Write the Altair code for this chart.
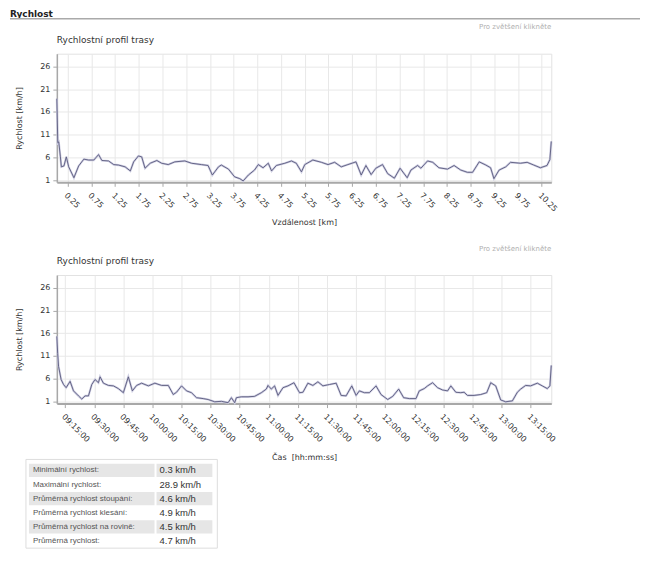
import altair as alt
import pandas as pd

# ---------------- data ----------------
dist_km = [0.02, 0.04, 0.06, 0.095, 0.115, 0.17, 0.22, 0.27, 0.38, 0.48,
           0.59, 0.69, 0.80, 0.90, 0.97, 1.11, 1.22, 1.32, 1.46, 1.57,
           1.64, 1.74, 1.81, 1.88, 1.99, 2.13, 2.23, 2.37, 2.51, 2.72,
           2.86, 3.07, 3.21, 3.30, 3.43, 3.49, 3.64, 3.77, 3.88, 3.95,
           4.06, 4.19, 4.27, 4.37, 4.48, 4.55, 4.65, 4.83, 4.97, 5.07,
           5.18, 5.25, 5.42, 5.60, 5.74, 5.88, 6.02, 6.16, 6.33, 6.44,
           6.54, 6.65, 6.75, 6.89, 7.00, 7.14, 7.26, 7.41, 7.49, 7.63,
           7.70, 7.84, 7.95, 8.08, 8.26, 8.40, 8.54, 8.68, 8.79, 8.93,
           9.07, 9.17, 9.24, 9.35, 9.49, 9.59, 9.80, 9.94, 10.08, 10.22,
           10.36, 10.42, 10.45]
speed_by_dist = [18.9, 9.2, 9.4, 6.1, 3.9, 4.1, 6.1, 3.9, 1.5, 4.1,
                 5.6, 5.4, 5.4, 6.6, 5.3, 5.2, 4.4, 4.3, 3.9, 3.0,
                 5.0, 6.3, 6.1, 3.6, 4.7, 5.3, 4.7, 4.4, 5.0, 5.2,
                 4.7, 4.4, 4.2, 2.1, 3.9, 4.3, 3.4, 1.7, 1.3, 0.8,
                 2.1, 3.2, 4.4, 3.7, 4.7, 3.0, 4.2, 4.7, 5.2, 4.7,
                 2.8, 4.4, 5.4, 4.9, 4.4, 4.9, 3.9, 4.4, 5.0, 2.1,
                 4.2, 2.2, 3.6, 4.4, 2.4, 1.4, 3.6, 1.5, 3.2, 4.2,
                 3.6, 5.2, 4.9, 3.7, 3.4, 4.2, 3.2, 2.7, 2.7, 5.0,
                 4.3, 3.7, 1.3, 3.2, 3.9, 4.9, 4.7, 4.9, 4.3, 3.7,
                 4.2, 5.5, 9.5]

time_hms = ["09:10:44", "09:11:10", "09:11:37", "09:12:56", "09:14:11", "09:15:31",
            "09:17:34", "09:19:19", "09:21:53", "09:23:35", "09:25:17", "09:27:02",
            "09:28:44", "09:30:25", "09:32:10", "09:33:00", "09:34:44", "09:37:19",
            "09:39:53", "09:42:27", "09:45:01", "09:47:35", "09:49:39", "09:51:52",
            "09:54:26", "09:57:53", "10:01:16", "10:04:43", "10:08:10", "10:10:44",
            "10:12:26", "10:15:00", "10:17:34", "10:20:08", "10:22:43", "10:26:09",
            "10:28:43", "10:32:07", "10:35:34", "10:39:00", "10:40:42", "10:42:24",
            "10:43:16", "10:45:50", "10:49:17", "10:52:41", "10:56:08", "10:58:42",
            "10:59:34", "11:01:16", "11:02:58", "11:04:43", "11:07:17", "11:09:51",
            "11:12:56", "11:15:49", "11:17:34", "11:20:08", "11:22:42", "11:25:17",
            "11:27:51", "11:31:14", "11:34:41", "11:37:15", "11:39:49", "11:42:45",
            "11:44:58", "11:46:40", "11:49:14", "11:51:48", "11:55:14", "11:57:49",
            "12:01:16", "12:03:50", "12:06:55", "12:09:29", "12:12:22", "12:15:49",
            "12:17:31", "12:20:05", "12:21:49", "12:24:23", "12:26:58", "12:29:32",
            "12:32:07", "12:33:48", "12:36:22", "12:38:56", "12:40:38", "12:42:23",
            "12:45:47", "12:49:13", "12:52:18", "12:54:22", "12:56:56", "12:59:30",
            "13:02:04", "13:05:31", "13:08:05", "13:09:47", "13:12:22", "13:14:56",
            "13:18:22", "13:20:56", "13:23:31", "13:24:51", "13:25:34"]
speed_by_time = [15.3, 11.5, 8.7, 5.8, 4.7, 4.0,
                 5.4, 3.3, 2.2, 1.5, 2.2, 2.2,
                 4.7, 5.8, 5.1, 6.4, 5.0, 4.5,
                 4.4, 3.8, 2.9, 6.4, 3.3, 4.5,
                 5.0, 4.4, 5.0, 4.5, 4.5, 2.5,
                 3.0, 4.4, 3.3, 2.9, 1.8, 1.6,
                 1.4, 0.9, 1.0, 0.7, 1.8, 0.7,
                 1.8, 2.0, 2.0, 2.1, 2.9, 3.7,
                 4.5, 3.7, 4.4, 2.3, 4.0, 4.4,
                 5.1, 2.9, 3.0, 5.0, 4.5, 5.3,
                 4.4, 4.7, 5.0, 2.3, 2.2, 4.4,
                 2.3, 3.3, 2.9, 2.9, 4.4, 2.5,
                 1.4, 2.1, 3.7, 1.8, 1.6, 1.6,
                 3.3, 3.8, 4.4, 5.1, 4.0, 3.5,
                 3.3, 4.4, 3.0, 2.9, 3.0, 2.3,
                 2.3, 2.5, 2.9, 5.1, 4.4, 1.3,
                 0.9, 1.1, 3.0, 3.7, 4.5, 4.4,
                 5.0, 4.4, 3.8, 4.4, 8.9]

dist_ticks = [0.25, 0.75, 1.25, 1.75, 2.25, 2.75, 3.25, 3.75, 4.25, 4.75, 5.25,
              5.75, 6.25, 6.75, 7.25, 7.75, 8.25, 8.75, 9.25, 9.75, 10.25]
time_ticks = ["09:15:00", "09:30:00", "09:45:00", "10:00:00", "10:15:00", "10:30:00",
              "10:45:00", "11:00:00", "11:15:00", "11:30:00", "11:45:00", "12:00:00",
              "12:15:00", "12:30:00", "12:45:00", "13:00:00", "13:15:00"]
speed_ticks = [1, 6, 11, 16, 21, 26]

stat_labels = ["Minimální rychlost:", "Maximální rychlost:", "Průměrná rychlost stoupání:",
               "Průměrná rychlost klesání:", "Průměrná rychlost na rovině:", "Průměrná rychlost:"]
stat_values = ["0.3 km/h", "28.9 km/h", "4.6 km/h", "4.9 km/h", "4.5 km/h", "4.7 km/h"]

DAY = (2012, 6, 15)


def dt(hms):
    h, m, s = (int(p) for p in hms.split(":"))
    return alt.DateTime(year=DAY[0], month=DAY[1], date=DAY[2], hours=h, minutes=m, seconds=s)


df1 = pd.DataFrame({"km": dist_km, "v": speed_by_dist})
df2 = pd.DataFrame({"t": ["%04d-%02d-%02dT%s" % (DAY[0], DAY[1], DAY[2], t) for t in time_hms],
                    "v": speed_by_time})
dfs = pd.DataFrame({"row": list(range(len(stat_labels))), "label": stat_labels, "value": stat_values})
one = pd.DataFrame({"k": [0]})

FONT = "DejaVu Sans"
W, H = 496, 129
HALO, CORE = "#cfcfe3", "#5a5a7c"

y_enc = alt.Y("v:Q", scale=alt.Scale(domain=[0.5, 28.8], nice=False, zero=False),
              axis=alt.Axis(values=speed_ticks, title="Rychlost [km/h]", titlePadding=16))


def annotations(with_header):
    layers = []
    if with_header:
        layers.append(alt.Chart(one).mark_text(text="Rychlost", font=FONT, fontSize=9,
                                               fontWeight="bold", align="left", baseline="top",
                                               color="#222")
                      .encode(x=alt.value(-47), y=alt.value(-44)))
        layers.append(alt.Chart(one).mark_rule(color="#aaaaaa", strokeWidth=1.5)
                      .encode(x=alt.value(-47), x2=alt.value(585), y=alt.value(-35)))
    layers.append(alt.Chart(one).mark_text(text="Pro zvětšení klikněte", font=FONT, fontSize=7,
                                           align="right", color="#b0b0b0")
                  .encode(x=alt.value(W), y=alt.value(-26.5)))
    layers.append(alt.Chart(one).mark_text(text="Rychlostní profil trasy", font=FONT, fontSize=9,
                                           align="left", color="#333")
                  .encode(x=alt.value(0), y=alt.value(-14)))
    return layers


base1 = alt.Chart(df1).encode(
    x=alt.X("km:Q", scale=alt.Scale(domain=[0.02, 10.45], nice=False, zero=False),
            axis=alt.Axis(values=dist_ticks, format=".2f", labelAngle=45, labelOverlap=False,
                          title="Vzdálenost [km]", titleY=40, titleBaseline="middle")),
    y=y_enc)
chart1 = alt.layer(base1.mark_line(color=HALO, strokeWidth=2.2),
                   base1.mark_line(color=CORE, strokeWidth=0.9),
                   *annotations(True)).properties(width=W, height=H)

base2 = alt.Chart(df2).encode(
    x=alt.X("t:T", scale=alt.Scale(domain=[dt(time_hms[0]), dt(time_hms[-1])]),
            axis=alt.Axis(values=[dt(t) for t in time_ticks], format="%H:%M:%S", labelAngle=45,
                          labelOverlap=False,
                          title="Čas\u00a0 [hh:mm:ss]", titleY=54, titleBaseline="middle")),
    y=y_enc)
chart2 = alt.layer(base2.mark_line(color=HALO, strokeWidth=2.2),
                   base2.mark_line(color=CORE, strokeWidth=0.9),
                   *annotations(False)).properties(width=W, height=H)

# table (drawn relative to the panel origin)
TOP = -37
row_y = alt.Y("row:O", axis=None,
              scale=alt.Scale(range=[TOP + 4.3, TOP + 88.5], paddingInner=0.05, paddingOuter=0))
frame = alt.Chart(one).mark_rect(fill="white", stroke="#dddddd", strokeWidth=1).encode(
    x=alt.value(-31), x2=alt.value(161), y=alt.value(TOP), y2=alt.value(TOP + 89))
tb = alt.Chart(dfs)
shade = tb.transform_filter("datum.row % 2 == 0")
cell_l = shade.mark_rect(color="#e6e6e6").encode(y=row_y, x=alt.value(-28), x2=alt.value(98))
cell_v = shade.mark_rect(color="#e6e6e6").encode(y=row_y, x=alt.value(100), x2=alt.value(156))
txt_l = tb.mark_text(font="Liberation Sans", fontSize=8, align="left", color="#555").encode(
    y=row_y, x=alt.value(-24), text="label:N")
txt_v = tb.mark_text(font="Liberation Sans", fontSize=9.5, align="left", color="#333").encode(
    y=row_y, x=alt.value(103), text="value:N")
table = alt.layer(frame, cell_l, cell_v, txt_l, txt_v).properties(
    width=10, height=52, view=alt.ViewBackground(stroke="transparent"))

chart = alt.vconcat(chart1, chart2, table, spacing=93, bounds="flush", padding=0).configure_view(
    stroke="#e2e2e2"
).configure_axis(
    labelFont=FONT, titleFont=FONT, labelFontSize=8, titleFontSize=8,
    labelColor="#333", titleColor="#333", titleFontWeight="normal",
    domainColor="#a8a8a8", tickColor="#a8a8a8", gridColor="#e8e8e8",
    tickSize=4, labelPadding=3
).configure_axisX(domainWidth=2, labelPadding=5).configure_axisY(domainWidth=1.5)

chart.save("out.html", embed_options={"renderer": "svg", "actions": False})
